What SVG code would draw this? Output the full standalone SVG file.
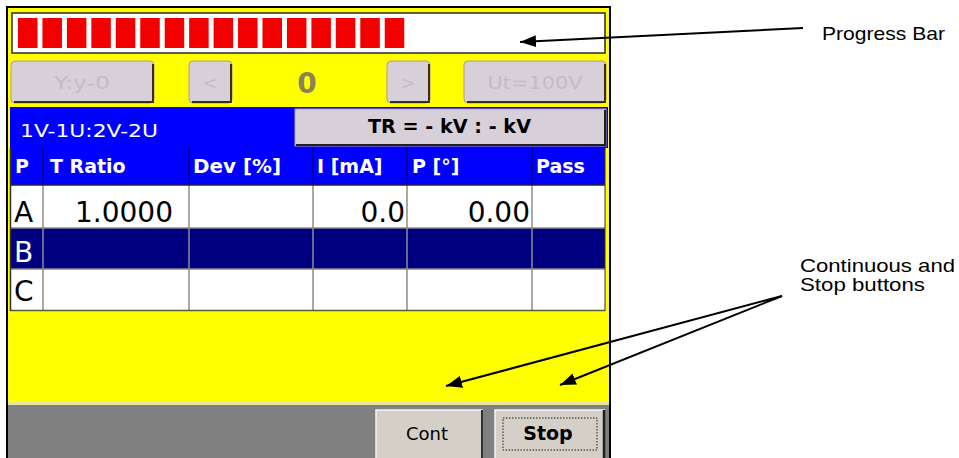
<svg xmlns="http://www.w3.org/2000/svg" width="959" height="458" viewBox="0 0 959 458">
<defs>
<style>
.ui{font-family:"DejaVu Sans",Verdana,sans-serif}
.b{font-weight:bold}
.ann{font-family:"Liberation Sans",Arial,sans-serif;font-size:19px;fill:#000}
.btn{fill:#d8d0d8;stroke:#b89880;stroke-width:1}
.shadow{fill:none;stroke:#3a2e22;stroke-width:2}
.dis{fill:#c4bcc4;font-size:17px;text-anchor:middle}
.hdr{fill:#fff;font-size:19px;font-weight:bold}
.val{font-size:28px;fill:#000}
.grid{stroke:#8c8c8c;stroke-width:1.5}
.conn{stroke:#000;stroke-width:2;fill:none;marker-end:url(#ah)}
.blk{fill:#f20000}
</style>
<marker id="ah" markerWidth="16" markerHeight="12" refX="16" refY="6" orient="auto" markerUnits="userSpaceOnUse">
<path d="M0,0 L16,6 L0,12 Z" fill="#000"/>
</marker>
</defs>
<rect width="959" height="458" fill="#fff"/>

<g id="frame">
<rect x="7" y="7" width="603" height="460" fill="#ffff00" stroke="#000" stroke-width="2"/>
</g>

<g id="progress-bar">
<rect x="12" y="13" width="593" height="40" fill="#fff" stroke="#2a2a2a" stroke-width="1.5"/>
<g class="blk">
<rect x="18" y="18" width="19.5" height="30"/>
<rect x="42.45" y="18" width="19.5" height="30"/>
<rect x="66.9" y="18" width="19.5" height="30"/>
<rect x="91.35" y="18" width="19.5" height="30"/>
<rect x="115.8" y="18" width="19.5" height="30"/>
<rect x="140.25" y="18" width="19.5" height="30"/>
<rect x="164.7" y="18" width="19.5" height="30"/>
<rect x="189.15" y="18" width="19.5" height="30"/>
<rect x="213.6" y="18" width="19.5" height="30"/>
<rect x="238.05" y="18" width="19.5" height="30"/>
<rect x="262.5" y="18" width="19.5" height="30"/>
<rect x="286.95" y="18" width="19.5" height="30"/>
<rect x="311.4" y="18" width="19.5" height="30"/>
<rect x="335.85" y="18" width="19.5" height="30"/>
<rect x="360.3" y="18" width="19.5" height="30"/>
<rect x="384.75" y="18" width="19.5" height="30"/>
</g>
</g>

<g id="btn-vector">
<rect class="btn" x="11" y="61" width="143" height="42" rx="4"/>
<path class="shadow" d="M153,64 V102 H14"/>
<text class="ui dis" x="82" y="89" textLength="56" lengthAdjust="spacingAndGlyphs">Y:y-0</text>
</g>
<g id="btn-prev">
<rect class="btn" x="189" y="61" width="43" height="42" rx="4"/>
<path class="shadow" d="M231,64 V102 H192"/>
<text class="ui dis" x="210" y="89">&lt;</text>
</g>
<g id="counter">
<text class="ui b" x="307" y="93" font-size="28" fill="#8a8258" text-anchor="middle">0</text>
</g>
<g id="btn-next">
<rect class="btn" x="387" y="61" width="43" height="42" rx="4"/>
<path class="shadow" d="M429,64 V102 H390"/>
<text class="ui dis" x="408" y="89">&gt;</text>
</g>
<g id="btn-voltage">
<rect class="btn" x="464" y="61" width="142" height="42" rx="4"/>
<path class="shadow" d="M605,64 V102 H467"/>
<text class="ui dis" x="535" y="89" textLength="95" lengthAdjust="spacingAndGlyphs">Ut=100V</text>
</g>

<g id="winding-bar">
<rect x="10" y="107" width="598" height="41" fill="#0000ff"/>
<text class="ui" x="20" y="137" font-size="18" fill="#fff" textLength="138" lengthAdjust="spacingAndGlyphs">1V-1U:2V-2U</text>
</g>
<g id="tr-button">
<rect x="295" y="109" width="311" height="37" fill="#d8d0d8" stroke="#c0a090" stroke-width="1"/>
<path d="M605,110 V145 H296" fill="none" stroke="#202020" stroke-width="2"/>
<text class="ui b" x="449.5" y="133" font-size="19" fill="#000" text-anchor="middle" textLength="163" lengthAdjust="spacingAndGlyphs">TR = - kV : - kV</text>
</g>

<g id="table">
<rect x="10" y="148" width="595" height="37" fill="#0000ff"/>
<rect x="10" y="185" width="595" height="43" fill="#fff"/>
<rect x="10" y="228" width="595" height="41" fill="#000080"/>
<rect x="10" y="269" width="595" height="41" fill="#fff"/>
<g stroke="#000080" stroke-width="1.5">
<line x1="43" y1="148" x2="43" y2="185"/>
<line x1="189" y1="148" x2="189" y2="185"/>
<line x1="313" y1="148" x2="313" y2="185"/>
<line x1="407" y1="148" x2="407" y2="185"/>
<line x1="532" y1="148" x2="532" y2="185"/>
</g>
<g class="grid">
<line x1="43" y1="185" x2="43" y2="310"/>
<line x1="189" y1="185" x2="189" y2="310"/>
<line x1="313" y1="185" x2="313" y2="310"/>
<line x1="407" y1="185" x2="407" y2="310"/>
<line x1="532" y1="185" x2="532" y2="310"/>
<line x1="10" y1="228" x2="605" y2="228"/>
<line x1="10" y1="269" x2="605" y2="269"/>
</g>
<line x1="10" y1="185" x2="605" y2="185" stroke="#202040" stroke-width="1.5"/>
<line x1="10" y1="310.5" x2="605" y2="310.5" stroke="#5a5a30" stroke-width="1.5"/>
<line x1="10.5" y1="148" x2="10.5" y2="311" stroke="#303030" stroke-width="1.5"/>
<line x1="605" y1="148" x2="605" y2="311" stroke="#303030" stroke-width="1"/>
<g class="ui">
<text class="hdr" x="15" y="173">P</text>
<text class="hdr" x="50" y="173">T Ratio</text>
<text class="hdr" x="193" y="173" textLength="88" lengthAdjust="spacingAndGlyphs">Dev [%]</text>
<text class="hdr" x="317" y="173">I [mA]</text>
<text class="hdr" x="412" y="173">P [°]</text>
<text class="hdr" x="536" y="173">Pass</text>
<text class="val" x="14" y="222">A</text>
<text class="val" x="75" y="222">1.0000</text>
<text class="val" x="405" y="222" text-anchor="end">0.0</text>
<text class="val" x="530" y="222" text-anchor="end">0.00</text>
<text class="val" x="14" y="262" fill="#fff" style="fill:#fff">B</text>
<text class="val" x="14" y="301">C</text>
</g>
</g>

<g id="bottom-bar">
<rect x="8" y="402" width="601" height="3" fill="#e6e6a0"/>
<rect x="8" y="405" width="601" height="53" fill="#808080"/>
</g>
<g id="btn-cont">
<rect x="376" y="410" width="107" height="50" fill="#d4d0c8"/>
<path d="M376,459 V410 H483" fill="none" stroke="#f4f4f4" stroke-width="1.5"/>
<path d="M482,410 V459" fill="none" stroke="#303030" stroke-width="2"/>
<text class="ui" x="427" y="440" font-size="18" fill="#000" text-anchor="middle">Cont</text>
</g>
<g id="btn-stop">
<rect x="495" y="410" width="110" height="50" fill="#d4d0c8"/>
<path d="M495,459 V410 H605" fill="none" stroke="#f4f4f4" stroke-width="1.5"/>
<path d="M604,410 V459" fill="none" stroke="#202020" stroke-width="2.5"/>
<rect x="503" y="418" width="94" height="32" fill="none" stroke="#202020" stroke-width="1" stroke-dasharray="1.5,1.5"/>
<text class="ui b" x="548" y="440" font-size="19" fill="#000" text-anchor="middle">Stop</text>
</g>

<g id="label-progress">
<text class="ann" x="822" y="40" textLength="123" lengthAdjust="spacingAndGlyphs">Progress Bar</text>
</g>
<g id="label-buttons">
<text class="ann" x="800" y="272" textLength="155" lengthAdjust="spacingAndGlyphs">Continuous and</text>
<text class="ann" x="800" y="291" textLength="125" lengthAdjust="spacingAndGlyphs">Stop buttons</text>
</g>

<g id="connectors">
<path class="conn" d="M803,28 L520,42"/>
<path class="conn" d="M782,296 L446,386"/>
<path class="conn" d="M782,296 L560,385"/>
</g>
</svg>
